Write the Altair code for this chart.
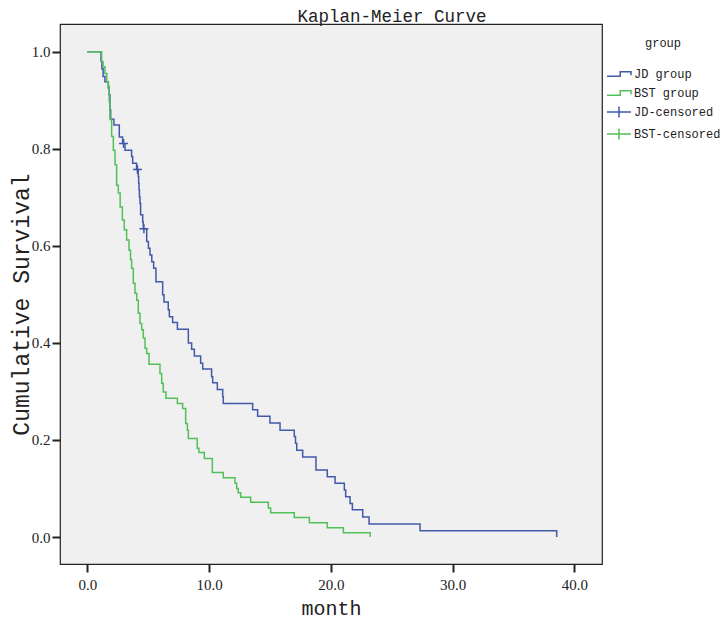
import altair as alt
import pandas as pd

# JD group Kaplan-Meier steps (time in months, survival after the step)
jd_time = [0, 1.13, 1.2, 1.3, 1.45, 1.73, 1.8, 1.86, 1.92, 2.19, 2.63, 2.9, 3.1, 3.64, 3.73,
           4.05, 4.19, 4.22, 4.25, 4.28, 4.33, 4.38, 4.55, 4.6, 4.88, 5.02, 5.15, 5.3, 5.45,
           5.64, 6.19, 6.3, 6.65, 6.74, 7.01, 7.4, 8.3, 8.57, 8.79, 9.31, 9.48, 10.21, 10.3,
           10.68, 11.12, 11.17, 13.58, 13.99, 15.0, 15.83, 17.0, 17.1, 17.2, 17.69, 18.78,
           19.71, 20.35, 21.11, 21.22, 21.58, 21.77, 22.62, 23.14, 27.33, 38.55]
jd_surv = [1.0, 0.98, 0.965, 0.949, 0.938, 0.925, 0.911, 0.88, 0.861, 0.849, 0.824, 0.811,
           0.797, 0.784, 0.770, 0.757, 0.743, 0.729, 0.715, 0.701, 0.687, 0.664, 0.649, 0.635,
           0.609, 0.595, 0.581, 0.567, 0.554, 0.526, 0.499, 0.484, 0.468, 0.454, 0.442, 0.428,
           0.400, 0.387, 0.373, 0.358, 0.346, 0.330, 0.318, 0.304, 0.289, 0.275, 0.262, 0.249,
           0.235, 0.220, 0.207, 0.193, 0.179, 0.165, 0.138, 0.124, 0.111, 0.097, 0.083, 0.069,
           0.056, 0.041, 0.027, 0.013, 0.0]

# BST group Kaplan-Meier steps
bst_time = [0, 1.18, 1.3, 1.45, 1.6, 1.73, 1.8, 1.86, 2.0, 2.14, 2.28, 2.41, 2.55, 2.7, 2.88,
            3.04, 3.23, 3.43, 3.55, 3.64, 3.78, 3.92, 4.06, 4.19, 4.33, 4.47, 4.6, 4.74, 4.88,
            5.07, 5.97, 6.11, 6.24, 6.46, 7.4, 7.83, 8.08, 8.22, 8.3, 9.03, 9.17, 9.61, 10.27,
            11.17, 12.13, 12.27, 12.4, 12.6, 13.42, 14.87, 15.06, 17.0, 18.24, 19.71, 21.03, 23.23]
bst_surv = [1.0, 0.979, 0.969, 0.955, 0.938, 0.928, 0.897, 0.86, 0.825, 0.797, 0.767, 0.725,
            0.709, 0.68, 0.653, 0.633, 0.612, 0.591, 0.572, 0.554, 0.523, 0.502, 0.488, 0.461,
            0.440, 0.427, 0.41, 0.389, 0.378, 0.356, 0.337, 0.317, 0.299, 0.286, 0.275, 0.265,
            0.234, 0.220, 0.203, 0.183, 0.174, 0.162, 0.133, 0.122, 0.111, 0.100, 0.091, 0.082,
            0.0715, 0.060, 0.050, 0.040, 0.0295, 0.019, 0.009, 0.0]

# censored observations (JD group)
jd_cens_time = [2.98, 4.12, 4.65]
jd_cens_surv = [0.811, 0.757, 0.635]

legend_labels = ["JD group", "BST group", "JD-censored", "BST-censored"]
JD_COLOR = "#4259a9"
BST_COLOR = "#52c058"
legend_colors = [JD_COLOR, BST_COLOR, JD_COLOR, BST_COLOR]
step_path = "M-1,0.18H0.1V-0.18H1V0.1"
legend_cross = "M-1,0H1M0,-0.45V0.45"
legend_shapes = [step_path, step_path, legend_cross, legend_cross]
chart_cross = "M-1,0H1M0,-1V1"

x_ticks = [0, 10, 20, 30, 40]
y_ticks = [0, 0.2, 0.4, 0.6, 0.8, 1.0]

jd_df = pd.DataFrame({"month": jd_time, "surv": jd_surv})
bst_df = pd.DataFrame({"month": bst_time, "surv": bst_surv})
cens_df = pd.DataFrame({"month": jd_cens_time, "surv": jd_cens_surv, "label": "JD-censored"})

NUM_FONT = "Liberation Serif"
TXT_FONT = "Liberation Mono"
INK = "#222222"

xscale = alt.Scale(domain=[-2.24, 42.27], nice=False, zero=False)
yscale = alt.Scale(domain=[-0.0556, 1.057], nice=False, zero=False)
cscale = alt.Scale(domain=legend_labels, range=legend_colors)
sscale = alt.Scale(domain=legend_labels, range=legend_shapes)

xaxis = alt.Axis(values=x_ticks, format=".1f", domain=False, grid=False, tickSize=8,
                 tickWidth=2, tickColor=INK, labelFont=NUM_FONT, labelFontSize=15,
                 labelColor=INK, labelPadding=5, titleFont=TXT_FONT, titleFontSize=20,
                 titleFontWeight="normal", titleColor=INK, titleBaseline="alphabetic",
                 titleY=50)
yaxis = alt.Axis(values=y_ticks, format=".1f", domain=False, grid=False, tickSize=8,
                 tickWidth=2, tickColor=INK, labelFont=NUM_FONT, labelFontSize=15,
                 labelColor=INK, labelPadding=2, titleFont=TXT_FONT, titleFontSize=23,
                 titleFontWeight="normal", titleColor=INK, titleBaseline="middle",
                 titleX=-39, titleY=280)

X = alt.X("month:Q", scale=xscale, axis=xaxis, title="month")
Y = alt.Y("surv:Q", scale=yscale, axis=yaxis, title="Cumulative Survival")

jd_line = alt.Chart(jd_df).mark_line(interpolate="step-after", strokeWidth=1.5,
                                     color=JD_COLOR).encode(x=X, y=Y)
bst_line = alt.Chart(bst_df).mark_line(interpolate="step-after", strokeWidth=1.5,
                                       color=BST_COLOR).encode(x=X, y=Y)

# visible censoring crosses
cens = alt.Chart(cens_df).mark_point(shape=chart_cross, filled=False, strokeWidth=1.5,
                                     size=81, color=JD_COLOR, opacity=1).encode(x=X, y=Y)

# legend carrier (invisible marks, legend only)
leg = alt.Legend(title="group", orient="none", legendX=546, legendY=14,
                 symbolSize=576, symbolStrokeWidth=1.5, symbolOpacity=1,
                 labelFont=TXT_FONT, labelFontSize=12,
                 labelColor=INK, titleFont=TXT_FONT, titleFontSize=12, titleFontWeight="normal",
                 titleColor=INK, titleAnchor="middle", titlePadding=11, rowPadding=0,
                 labelOffset=2)
legend_layer = alt.Chart(cens_df).mark_point(filled=False, opacity=0).encode(
    x=X, y=Y,
    color=alt.Color("label:N", scale=cscale, legend=leg),
    shape=alt.Shape("label:N", scale=sscale, legend=leg))

chart = alt.layer(jd_line, bst_line, cens, legend_layer).properties(
    width=542, height=540,
    padding={"left": 52, "top": 16, "right": 118, "bottom": 56},
    autosize="none",
    title=alt.TitleParams("Kaplan-Meier Curve", font=TXT_FONT, fontSize=17.5,
                          fontWeight="normal", color=INK, anchor="middle", dx=61, offset=-1),
).configure_view(fill="#f0f0f0", stroke=INK, strokeWidth=1.2)

chart.save("out.html", embed_options={"renderer": "svg", "actions": False})
